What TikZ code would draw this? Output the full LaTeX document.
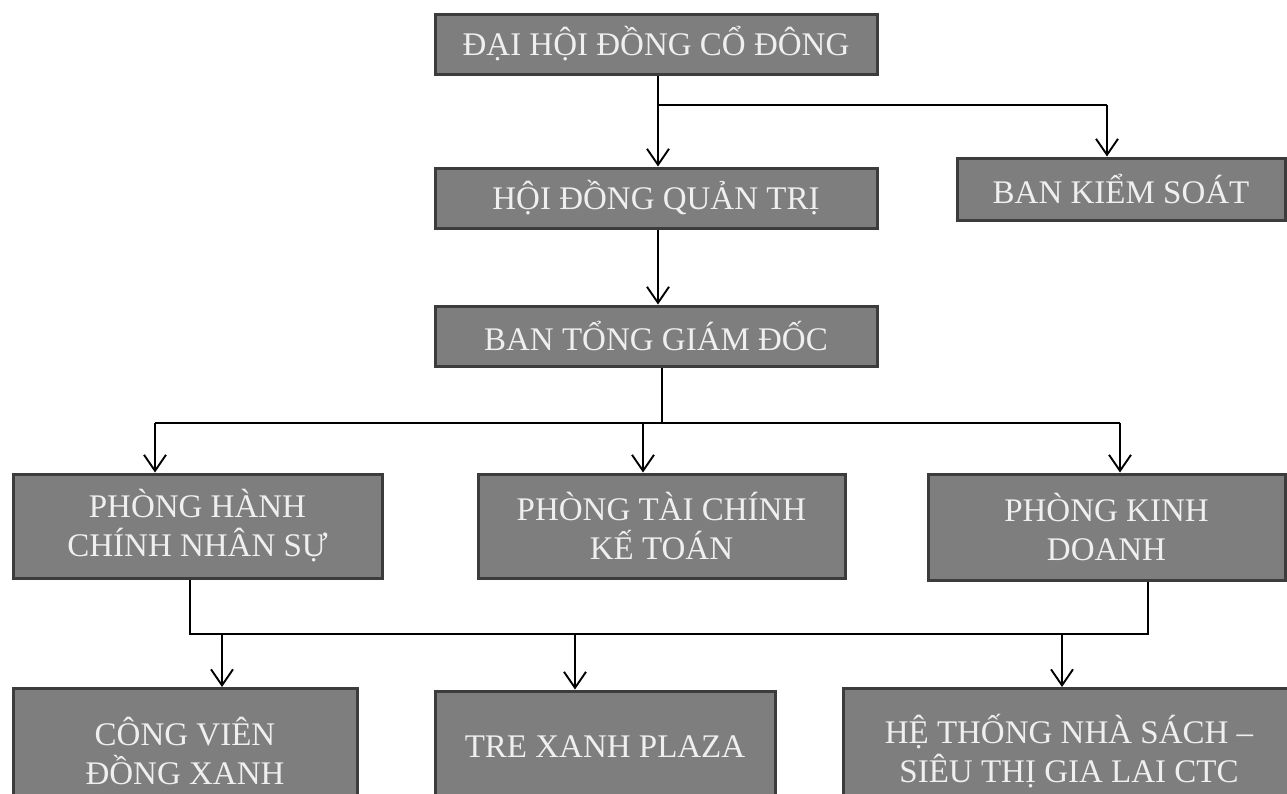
\documentclass[tikz,border=0pt]{standalone}
\usepackage{fontspec}
\setmainfont{Liberation Serif}
\usetikzlibrary{arrows.meta}
\definecolor{boxfill}{HTML}{7E7E7E}
\definecolor{boxline}{HTML}{3C3C3C}
\definecolor{boxtext}{HTML}{EFEFEF}
\tikzset{
  orgbox/.style={draw=boxline, line width=3pt, fill=boxfill, text=boxtext,
    align=center, inner sep=0pt, font=\fontsize{33}{39}\selectfont},
  conn/.style={line width=2.4pt, draw=black},
  arr/.style={conn, -{Straight Barb[length=16pt, width=22pt, line width=1.9pt]}}
}
\begin{document}
\begin{tikzpicture}[x=1pt, y=-1pt]
\useasboundingbox (0,0) rectangle (1287,793);
\begin{scope}
\clip (0,0) rectangle (1287,793);
\node[orgbox, minimum width=442pt, minimum height=60pt] (dhd) at (656,44) {ĐẠI HỘI ĐỒNG CỔ ĐÔNG};
\node[orgbox, minimum width=442pt, minimum height=60pt] (hdqt) at (656,198) {HỘI ĐỒNG QUẢN TRỊ};
\node[orgbox, minimum width=328pt, minimum height=62pt] (bks) at (1121,189) {BAN KIỂM SOÁT};
\node[orgbox, minimum width=442pt, minimum height=60pt] (btgd) at (656,336) {BAN TỔNG GIÁM ĐỐC};
\node[orgbox, minimum width=369pt, minimum height=104pt] (phc) at (197.5,526) {PHÒNG HÀNH\\CHÍNH NHÂN SỰ};
\node[orgbox, minimum width=367pt, minimum height=104pt] (ptc) at (661.5,526) {PHÒNG TÀI CHÍNH\\KẾ TOÁN};
\node[orgbox, minimum width=357pt, minimum height=106pt] (pkd) at (1106.5,527) {PHÒNG KINH\\DOANH};
\node[orgbox, minimum width=344pt, minimum height=125pt] (cvdx) at (185,751) {CÔNG VIÊN\\ĐỒNG XANH};
\node[orgbox, minimum width=340pt, minimum height=112pt] (txp) at (605,747) {TRE XANH PLAZA};
\node[orgbox, minimum width=452pt, minimum height=125pt] (htns) at (1069,751) {HỆ THỐNG NHÀ SÁCH –\\SIÊU THỊ GIA LAI CTC};

% level 1 -> 2
\coordinate (j1) at (658,105);
\coordinate (b1) at (1107,105);
\draw[arr] (dhd.south -| j1) -- (hdqt.north -| j1);
\draw[conn] (j1) -- (b1);
\draw[arr] (b1) -- (bks.north -| b1);
% level 2 -> 3
\draw[arr] (hdqt.south -| j1) -- (btgd.north -| j1);
% level 3 -> 4
\coordinate (j2) at (662,423);
\coordinate (l2) at (155,423);
\coordinate (m2) at (643,423);
\coordinate (r2) at (1120,423);
\draw[conn] (btgd.south -| j2) -- (j2);
\draw[conn] (l2) -- (r2);
\draw[arr] (l2) -- (phc.north -| l2);
\draw[arr] (m2) -- (ptc.north -| m2);
\draw[arr] (r2) -- (pkd.north -| r2);
% level 4 -> 5
\coordinate (l3) at (190,634);
\coordinate (r3) at (1148,634);
\coordinate (a3) at (222,634);
\coordinate (b3) at (575,634);
\coordinate (c3) at (1062,634);
\draw[conn] (phc.south -| l3) -- (l3) -- (r3) -- (pkd.south -| r3);
\draw[arr] (a3) -- (cvdx.north -| a3);
\draw[arr] (b3) -- (txp.north -| b3);
\draw[arr] (c3) -- (htns.north -| c3);
\end{scope}
\end{tikzpicture}
\end{document}
